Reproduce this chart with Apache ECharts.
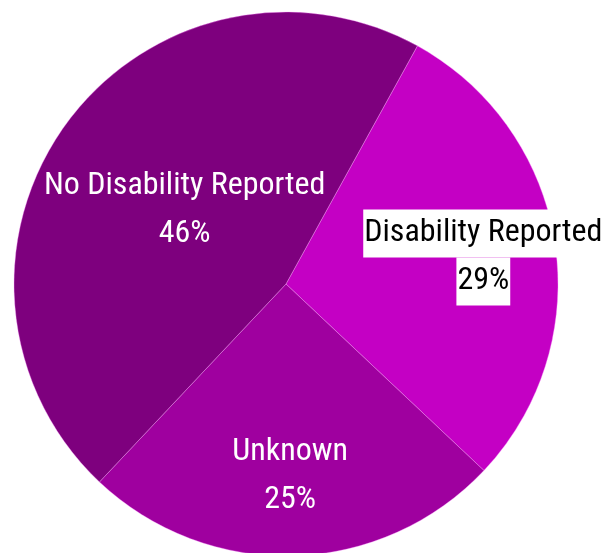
<!DOCTYPE html>
<html>
<head>
<meta charset="utf-8">
<script src="https://cdn.jsdelivr.net/npm/echarts@6/dist/echarts.min.js"></script>
<style>html,body{margin:0;padding:0;background:#fff;}#c{width:613px;height:553px;}</style>
</head>
<body>
<div id="c"></div>
<script>
const categories = ['Disability Reported', 'Unknown', 'No Disability Reported'];
const values = [29, 25, 46];
const colors = ['#c400c4', '#9f009f', '#7e007e'];
const labelShift = [[60, -5], [0, 53], [11, 8]];

const chart = echarts.init(document.getElementById('c'), null, {renderer: 'canvas'});
const fontFamily = '"Roboto Condensed", "Open Sans", sans-serif';
const fontWeight = 'normal';
const fontSize = 32;

const data = categories.map((name, i) => {
  const item = {name: name, value: values[i], itemStyle: {color: colors[i]}};
  if (i === 0) {
    item.label = {
      formatter: '{a|{b}}\n{a|{d}%}',
      rich: {
        a: {color: '#000', backgroundColor: '#fff', fontSize: fontSize, lineHeight: 48, height: 48,
            fontFamily: fontFamily, fontWeight: fontWeight, padding: [0, 1, 0, 1]}
      }
    };
  }
  return item;
});

chart.setOption({
  animation: false,
  series: [{
    type: 'pie',
    center: [286, 284],
    radius: 272,
    startAngle: 61.1,
    clockwise: true,
    avoidLabelOverlap: false,
    itemStyle: {borderColor: 'rgba(255,160,255,0.6)', borderWidth: 0.6},
    label: {
      show: true,
      position: 'inside',
      formatter: '{b}\n{d}%',
      color: '#fff',
      fontSize: fontSize,
      lineHeight: 48,
      fontFamily: fontFamily,
      fontWeight: fontWeight,
      textBorderWidth: 0
    },
    labelLine: {show: false},
    labelLayout: function (p) {
      const s = labelShift[p.dataIndex];
      return {dx: s[0], dy: s[1]};
    },
    emphasis: {disabled: true},
    data: data
  }]
});
</script>
</body>
</html>
